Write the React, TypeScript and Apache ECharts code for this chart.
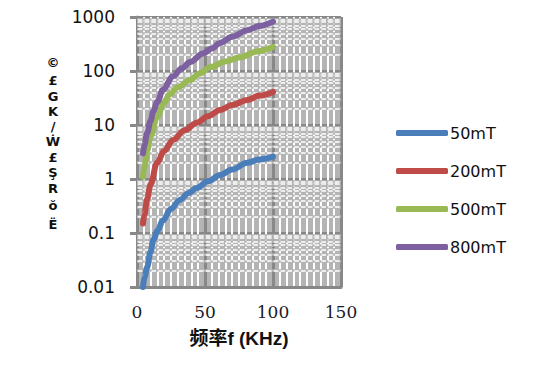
import React, { useEffect, useRef } from "react";
import * as echarts from "echarts";

const seriesNames = ["50mT", "200mT", "500mT", "800mT"];
const seriesColors = ["#4a7ebb", "#be4b48", "#98b954", "#7d60a0"];

const x50 = [4.4, 5.5, 7.4, 10, 12, 15, 19, 25, 31.6, 38, 44, 52, 61, 70, 81, 90, 100];
const y50 = [0.01, 0.015, 0.023, 0.045, 0.074, 0.11, 0.17, 0.28, 0.41, 0.55, 0.68, 0.9, 1.18, 1.5, 2.0, 2.3, 2.6];

const x200 = [4.4, 5.5, 7.4, 10, 14.7, 20, 26.5, 35, 44, 52, 61, 70, 81, 90, 100];
const y200 = [0.15, 0.22, 0.42, 0.8, 2, 3.3, 5.3, 8, 11, 14.5, 19, 23.5, 29, 35, 41];

const x500 = [4.4, 5.5, 7.4, 10, 14.7, 20, 24, 30, 39, 46, 54, 65, 76, 88, 100];
const y500 = [1.1, 1.7, 3.3, 6.2, 14, 26, 37, 50, 68, 90, 118, 150, 180, 230, 280];

const x800 = [4.4, 5.5, 7.4, 10, 12, 15, 19, 26.5, 33, 39, 48.5, 55, 61, 70, 81, 90, 100];
const y800 = [3, 4.3, 7, 12, 18, 27, 45, 80, 112, 146, 210, 260, 330, 430, 570, 680, 820];

const yTickLabels = ["0.01", "0.1", "1", "10", "100", "1000"];
const xAxisName = "频率f (KHz)";
const yTitleChars = ["©", "£", "G", "K", "/", "Ẇ", "£", "Ş", "R", "ŏ", "Ë"];
const yTitleYs = [62, 80, 96, 111, 126, 141, 157, 172, 188, 205, 224];

// log minor gridline values
const minorMultipliers = [2, 3, 4, 5, 6, 7, 8, 9];
const decades = [0.01, 0.1, 1, 10, 100];

export default function App() {
  const ref = useRef<HTMLDivElement>(null);
  useEffect(() => {
    if (!ref.current) return;
    const chart = echarts.init(ref.current, null, { renderer: "svg" });
    const xs = [x50, x200, x500, x800];
    const ys = [y50, y200, y500, y800];
    const minorVals: number[] = [];
    decades.forEach((d) => minorMultipliers.forEach((m) => minorVals.push(+(d * m).toPrecision(3))));

    const series: any[] = seriesNames.map((name, i) => ({
      name,
      type: "line",
      smooth: 0.35,
      smoothMonotone: "x",
      showSymbol: false,
      symbol: "none",
      z: 10,
      data: xs[i].map((x, j) => [x, ys[i][j]]),
      lineStyle: { color: seriesColors[i], width: 6, cap: "round", join: "round" },
      itemStyle: { color: seriesColors[i] },
    }));
    const grayLayer = minorVals.map((v) => ({
      yAxis: v,
      lineStyle: { color: "#b4b4b4", type: "solid", width: 2.5 },
    }));
    const whiteLayer = minorVals.map((v) => ({
      yAxis: v,
      lineStyle: { color: "#ffffff", type: [4.6, 2.2], dashOffset: 5.7, width: 1.5 },
    }));
    series.push({
      name: "minor",
      type: "line",
      z: 1,
      silent: true,
      showSymbol: false,
      symbol: "none",
      data: [[0, 1]],
      lineStyle: { opacity: 0 },
      markLine: {
        z: 1,
        silent: true,
        symbol: "none",
        label: { show: false },
        animation: false,
        lineStyle: { opacity: 1 },
        data: [...grayLayer, ...whiteLayer],
      },
    });

    chart.setOption({
      animation: false,
      grid: {
        left: 137,
        right: 193,
        top: 17,
        bottom: 89,
        show: true,
        backgroundColor: "#b4b4b4",
        borderWidth: 0,
      },
      legend: {
        data: seriesNames,
        orient: "vertical",
        left: 391,
        top: 120,
        itemWidth: 52,
        itemHeight: 6,
        itemGap: 22,
        icon: "roundRect",
        textStyle: { fontFamily: "DejaVu Sans", fontSize: 16, color: "#111", padding: [0, 0, 0, -3] },
      },
      xAxis: {
        type: "value",
        min: 0,
        max: 150,
        interval: 50,
        name: xAxisName,
        nameLocation: "middle",
        nameGap: 42,
        nameTextStyle: {
          fontFamily: "Liberation Sans, Noto Sans CJK SC",
          fontWeight: "bold",
          fontSize: 19,
          color: "#111",
        },
        axisLine: { show: true, lineStyle: { color: "#888", width: 3 } },
        axisTick: { show: false },
        axisLabel: { fontFamily: "DejaVu Serif", fontSize: 17, color: "#1a1a2a", margin: 16 },
        splitLine: { show: true, lineStyle: { color: "#888", width: 3 } },
        minorTick: { show: false, splitNumber: 10 },
        minorSplitLine: { show: true, lineStyle: { color: "#ffffff", type: "solid", width: 2 } },
      },
      yAxis: {
        type: "log",
        logBase: 10,
        min: 0.01,
        max: 1000,
        axisLine: { show: true, lineStyle: { color: "#888", width: 3 } },
        axisTick: { show: true, inside: false, length: 7, lineStyle: { color: "#888", width: 3 } },
        axisLabel: {
          fontFamily: "DejaVu Sans",
          fontSize: 17,
          color: "#111",
          margin: 22,
          formatter: (v: number) => {
            const idx = Math.round(Math.log10(v)) + 2;
            return yTickLabels[idx] ?? String(v);
          },
        },
        splitLine: { show: true, lineStyle: { color: "#888", width: 3 } },
      },
      graphic: yTitleChars.map((c, i) => ({
        type: "text",
        x: 53,
        y: yTitleYs[i],
        style: {
          text: c,
          fontFamily: "DejaVu Sans",
          fontWeight: "bold",
          fontSize: 13,
          fill: "#111",
          align: "center",
          verticalAlign: "middle",
        },
      })),
      series,
    });
    return () => chart.dispose();
  }, []);
  return <div ref={ref} style={{ width: 534, height: 376, margin: -8 }} />;
}
